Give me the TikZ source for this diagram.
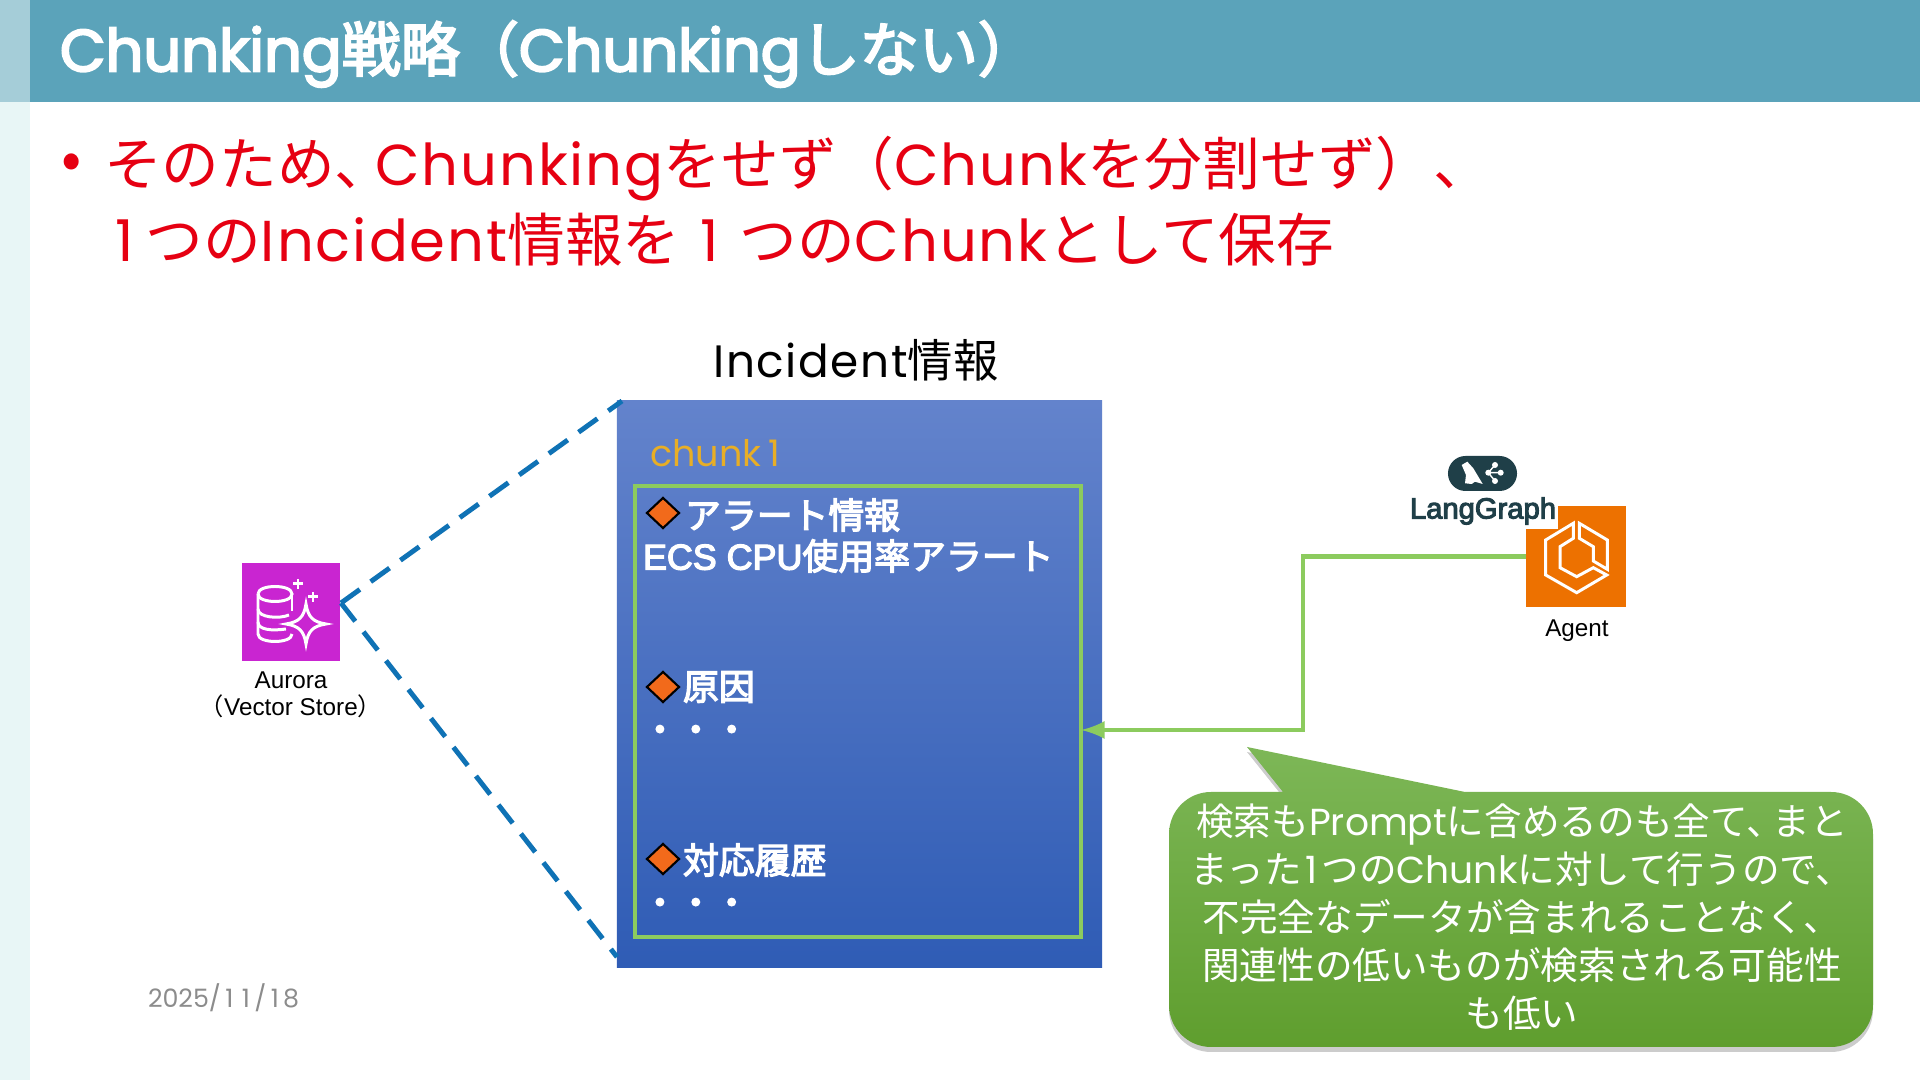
\documentclass[tikz,border=0pt]{standalone}
\usepackage{fontspec}
\setmainfont{Noto Sans CJK JP}
\newfontfamily\arialfont{Liberation Sans}
\newfontfamily\latfont{Poppins}
\newfontfamily\widelat[LetterSpace=3.4]{Poppins}
\newfontfamily\heavyfont[FakeBold=3.5]{Noto Sans CJK JP}
\newfontfamily\heavylat[FakeBold=3.5]{Poppins}
\newfontfamily\heavyarial[FakeBold=3.5]{Liberation Sans}
\newcommand\wideone[1][.35em]{\kern#1 {\latfont 1}\kern#1 }
\usepackage{tikz}
\usetikzlibrary{arrows}
\usetikzlibrary{shapes.geometric}
\usetikzlibrary{shadows}
\definecolor{headblue}{HTML}{5BA3BA}
\definecolor{headpale}{HTML}{A5CDD8}
\definecolor{stripmint}{HTML}{E8F6F6}
\definecolor{alertred}{HTML}{E60012}
\definecolor{linkblue}{HTML}{0F72B5}
\definecolor{framegreen}{HTML}{8CCB5E}
\definecolor{awspurple}{HTML}{C925D1}
\definecolor{awsorange}{HTML}{ED7100}
\definecolor{langdark}{HTML}{1F3F48}
\definecolor{chunkgold}{HTML}{E8AE26}
\definecolor{markorange}{HTML}{F26A1B}
\definecolor{boxtop}{HTML}{6383CC}
\definecolor{boxlow}{HTML}{2F5CB5}
\definecolor{notetop}{HTML}{7DB757}
\definecolor{notelow}{HTML}{5F9E2E}
\begin{document}
\begin{tikzpicture}[x=0.01cm,y=-0.01cm,line cap=butt,line join=miter,
  txt/.style={inner sep=0pt,outer sep=0pt},
  itemtxt/.style={txt,anchor=west,text=white,font=\fontsize{10.2pt}{12pt}\selectfont\heavyfont},
  marker/.style={diamond,aspect=1,draw=black,line width=0.6pt,fill=markorange,inner sep=0pt,minimum width=0.33cm,minimum height=0.31cm},
  iconline/.style={draw=white,line width=0.85pt},
  awslabel/.style={txt,font=\fontsize{6.9pt}{7.6pt}\selectfont\arialfont,align=center},
  dashlink/.style={draw=linkblue,line width=1.4pt,dash pattern=on 6.6pt off 3.8pt},
  greenlink/.style={draw=framegreen,line width=1.3pt}]
\useasboundingbox (0,0) rectangle (1920,1080);
\fill [white] (0,0) rectangle (1920,1080);
\fill [stripmint] (0,102) rectangle (30,1080);
\fill [headpale] (0,0) rectangle (30,102);
\fill [headblue] (30,0) rectangle (1920,102);
\node [txt,anchor=west,text=white,font=\fontsize{16.8pt}{20pt}\selectfont\heavyfont] (title) at (60,54) {{\heavylat Chunking}戦略（{\heavylat Chunking}しない）};
\node [txt,text=alertred,font=\fontsize{17pt}{20pt}\selectfont] (bullet) at (72,167) {•};
\node [txt,anchor=west,text=alertred,align=left,font=\fontsize{16.4pt}{21.6pt}\selectfont] (lead) at (104,201) {そのため、\kern-.3em{\widelat Chunking}をせず（{\widelat Chunk}を分割せず）、\\ \wideone[.2em]つの{\widelat Incident}情報を\wideone つの{\widelat Chunk}として保存};
\node [txt,font=\fontsize{12.9pt}{16pt}\selectfont] (heading) at (856,360) {{\widelat Incident}情報};
\node [txt,minimum width=4.85cm,minimum height=5.66cm,top color=boxtop,bottom color=boxlow] (incident) at (859.5,684) {};
\node [txt,anchor=west,text=chunkgold,font=\fontsize{10.4pt}{13pt}\selectfont\latfont] (chunklabel) at (650,453) {chunk\wideone[.2em]};
\node [txt,draw=framegreen,line width=1.3pt,minimum width=4.46cm,minimum height=4.51cm] (frame) at (858,711.5) {};
% items
\node [marker] (mark1) at (663,513) {};
\node [itemtxt] (item1) at (685,515) {アラート情報};
\node [itemtxt] (item1b) at (643,556) {{\heavyarial ECS CPU}使用率アラート};
\node [marker] (mark2) at (663,687) {};
\node [itemtxt] (item2) at (683,687) {原因};
\node [itemtxt] (dots2) at (642,734) {・・・};
\node [marker] (mark3) at (663,859) {};
\node [itemtxt] (item3) at (683,860) {対応履歴};
\node [itemtxt] (dots3) at (642,907) {・・・};
% aurora
\node [txt,fill=awspurple,minimum width=0.98cm,minimum height=0.98cm] (aurora) at (291,612) {};
\draw [iconline] (258,594) -- (258,634) .. controls (258,644) and (292,644) .. (292,634);
\draw [iconline] (258,594) .. controls (258,584) and (292,584) .. (292,594) .. controls (292,604) and (258,604) .. (258,594);
\draw [iconline] (258,609) .. controls (258,618) and (280,619) .. (289,615);
\draw [iconline] (258,622) .. controls (258,630) and (272,631) .. (286,629);
\draw [iconline] (292,594) -- (292,611);
\draw [iconline,fill=awspurple] (306,604) .. controls (308,617) and (313,622) .. (326,624) .. controls (313,626) and (308,631) .. (306,644) .. controls (304,631) and (299,626) .. (286,624) .. controls (299,622) and (304,617) .. (306,604) -- cycle;
\draw [iconline] (293,584) -- (303,584) (298,579) -- (298,589);
\draw [iconline] (308,597) -- (318,597) (313,592) -- (313,602);
\node [awslabel] (auroralabel) at (291,694.5) {Aurora\\{\normalfont （}Vector Store{\normalfont ）}};
\coordinate (apex) at (341,603);
\coordinate (uppertip) at (622,401);
\coordinate (lowertip) at (617,957);
\draw [dashlink] (apex) -- (uppertip);
\draw [dashlink] (apex) -- (lowertip);
% agent
\node [txt,fill=awsorange,minimum width=1.0cm,minimum height=1.01cm] (agent) at (1576,556.5) {};
\draw [iconline] (1573.3,523.3) -- (1545.7,540) -- (1545.7,575) -- (1576.7,592.7) -- (1606.7,575) -- (1593.3,567.7) -- (1576.7,576.7) -- (1560,567.7) -- (1560,546.7) -- (1573.3,538.3) -- cycle;
\draw [iconline] (1579.3,523.3) -- (1607.3,540) -- (1607.3,569.3) -- (1593.3,561) -- (1593.3,546.7) -- (1579.3,538.3) -- cycle;
\node [awslabel] (agentlabel) at (1577,631) {Agent};
\node [txt,fill=white,text=langdark,font=\fontsize{8.3pt}{10pt}\selectfont\heavyarial,minimum width=1.49cm,minimum height=0.36cm] (langlabel) at (1483,511) {LangGraph};
\node [txt,fill=langdark,rounded corners=0.175cm,minimum width=0.69cm,minimum height=0.35cm] (langbadge) at (1482.5,473.5) {};
\fill [white] (1461.7,465) -- (1467.3,461.7) -- (1473.3,468.3) -- (1482.7,484) -- (1475,481.7) -- (1471.7,484) -- (1465,483.3) -- (1466,475) -- cycle;
\fill [white] (1495,465) circle (3);
\fill [white] (1488.3,472.7) circle (3);
\fill [white] (1500.7,472.7) circle (3);
\fill [white] (1495,481) circle (3);
\draw [white,line width=0.4pt] (1495,465) -- (1488.3,472.7) -- (1495,481) (1488.3,472.7) -- (1500.7,472.7);
% link to the chunk
\coordinate (elbow) at (1303,730);
\coordinate (inlet) at (1081,730);
\draw [greenlink,-latex] (agent.west) -| (elbow) -- (inlet);
% callout
\path [top color=notetop,bottom color=notelow,drop shadow={shadow xshift=0pt,shadow yshift=-0.05cm,opacity=0.4}] (1169,900) [rounded corners=0.42cm] -- (1169,792) [sharp corners] -- (1283,792) -- (1247,747) -- (1465,792) -- (1700,792) [rounded corners=0.42cm] -- (1873,792) -- (1873,1047) -- (1169,1047) -- cycle;
\node [txt,text=white,align=center,font=\fontsize{10.7pt}{13.7pt}\selectfont] (note) at (1522,917) {検索も{\latfont Prompt}に含めるのも全て、\kern-.3em まと\\まった\wideone[.1em]つの{\latfont Chunk}に対して行うので、\\不完全なデータが含まれることなく、\\関連性の低いものが検索される可能性\\も低い};
\node [txt,anchor=west,text=black!45,font=\fontsize{7.2pt}{9pt}\selectfont\latfont] (date) at (148,998) {2025/\wideone[.17em]\wideone[.17em]/\wideone[.17em]8};
\end{tikzpicture}
\end{document}
